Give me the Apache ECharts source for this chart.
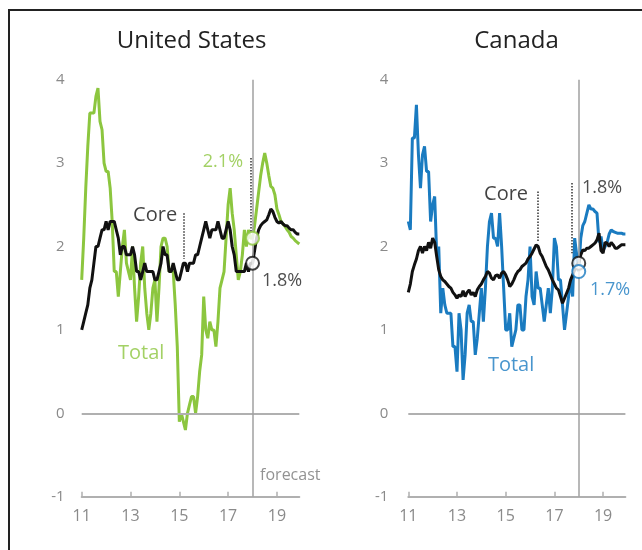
<!DOCTYPE html>
<html>
<head>
<meta charset="utf-8">
<script src="https://cdn.jsdelivr.net/npm/echarts@6/dist/echarts.min.js"></script>
<style>
  html, body { margin: 0; padding: 0; background: #fff; }
  #chart { width: 642px; height: 550px; }
</style>
</head>
<body>
<div id="chart"></div>
<script>
// Year-over-year inflation, % — monthly, Jan 2011 to Dec 2019 (2018 onward is forecast)
const firstYear = 11;            // x axis is in two-digit years
const forecastYear = 18;
const tickYears = [11, 13, 15, 17, 19];

const usTotal = [
  1.6, 2.1, 2.7, 3.2, 3.6, 3.6, 3.6, 3.8, 3.9, 3.5, 3.4, 3.0,
  2.9, 2.9, 2.7, 2.3, 1.7, 1.7, 1.4, 1.7, 2.0, 2.2, 1.8, 1.7,
  1.6, 2.0, 1.5, 1.1, 1.4, 1.8, 2.0, 1.5, 1.2, 1.0, 1.2, 1.5,
  1.6, 1.1, 1.5, 2.0, 2.1, 2.1, 2.0, 1.7, 1.7, 1.7, 1.3, 0.8,
  -0.1, 0.0, -0.1, -0.2, 0.0, 0.1, 0.2, 0.2, 0.0, 0.2, 0.5, 0.7,
  1.4, 1.0, 0.9, 1.1, 1.0, 1.0, 0.8, 1.1, 1.5, 1.6, 1.7, 2.1,
  2.5, 2.7, 2.4, 2.2, 1.9, 1.6, 1.7, 1.9, 2.2, 2.0, 2.2, 2.1,
  2.1, 2.25, 2.45, 2.65, 2.85, 3.0, 3.12, 3.0, 2.85, 2.72, 2.7, 2.62,
  2.45, 2.38, 2.3, 2.27, 2.24, 2.2, 2.17, 2.12, 2.1, 2.07, 2.05, 2.03
];
const usCore = [
  1.0, 1.1, 1.2, 1.3, 1.5, 1.6, 1.8, 2.0, 2.0, 2.1, 2.2, 2.2,
  2.3, 2.2, 2.3, 2.3, 2.3, 2.2, 2.1, 1.9, 2.0, 2.0, 1.9, 1.9,
  1.9, 2.0, 1.9, 1.7, 1.7, 1.6, 1.7, 1.8, 1.7, 1.7, 1.7, 1.7,
  1.6, 1.6, 1.7, 1.8, 2.0, 1.9, 1.9, 1.7, 1.7, 1.8, 1.7, 1.6,
  1.6, 1.7, 1.8, 1.8, 1.7, 1.8, 1.8, 1.8, 1.9, 1.9, 2.0, 2.1,
  2.2, 2.3, 2.2, 2.1, 2.2, 2.2, 2.2, 2.3, 2.2, 2.1, 2.1, 2.2,
  2.3, 2.2, 2.0, 1.9, 1.7, 1.7, 1.7, 1.7, 1.7, 1.8, 1.7, 1.8,
  1.8, 1.95, 2.1, 2.2, 2.25, 2.28, 2.3, 2.32, 2.38, 2.45, 2.42, 2.35,
  2.3, 2.28, 2.3, 2.27, 2.25, 2.25, 2.22, 2.2, 2.2, 2.17, 2.15, 2.15
];
const caTotal = [
  2.3, 2.2, 3.3, 3.3, 3.7, 3.1, 2.7, 3.1, 3.2, 2.9, 2.9, 2.3,
  2.5, 2.6, 1.9, 2.0, 1.2, 1.5, 1.3, 1.2, 1.2, 1.2, 0.8, 0.8,
  0.5, 1.2, 1.0, 0.4, 0.7, 1.2, 1.3, 1.1, 1.1, 0.7, 0.9, 1.2,
  1.5, 1.1, 1.5, 2.0, 2.3, 2.4, 2.1, 2.1, 2.0, 2.4, 2.0, 1.5,
  1.0, 1.0, 1.2, 0.8, 0.9, 1.0, 1.3, 1.3, 1.0, 1.0, 1.4, 1.6,
  2.0, 1.4, 1.3, 1.7, 1.5, 1.5, 1.3, 1.1, 1.3, 1.5, 1.2, 1.5,
  2.1, 2.0, 1.6, 1.6, 1.3, 1.0, 1.2, 1.4, 1.6, 1.4, 2.1, 1.9,
  1.7, 2.1, 2.25, 2.3, 2.4, 2.5, 2.45, 2.45, 2.42, 2.4, 2.05, 2.12,
  1.95, 2.0, 2.05, 2.15, 2.2, 2.18, 2.17, 2.16, 2.16, 2.16, 2.15, 2.15
];
const caCore = [
  1.45, 1.55, 1.7, 1.78, 1.85, 1.95, 2.0, 1.92, 2.0, 1.95, 2.05, 1.98,
  2.1, 2.05, 1.88, 1.72, 1.64, 1.6, 1.58, 1.55, 1.52, 1.5, 1.45, 1.42,
  1.38, 1.42, 1.4, 1.47, 1.4, 1.45, 1.48, 1.42, 1.45, 1.4, 1.48, 1.52,
  1.55, 1.6, 1.64, 1.7, 1.68, 1.62, 1.6, 1.65, 1.66, 1.62, 1.68, 1.7,
  1.66, 1.6, 1.52, 1.55, 1.6, 1.66, 1.7, 1.72, 1.76, 1.78, 1.8, 1.85,
  1.88, 1.92, 1.97, 2.02, 2.0, 1.92, 1.88, 1.82, 1.76, 1.72, 1.66, 1.6,
  1.55, 1.5, 1.48, 1.4, 1.32, 1.38, 1.44, 1.5, 1.6, 1.66, 1.72, 1.78,
  1.8, 1.9, 1.96, 1.95, 1.98, 1.98, 2.0, 2.02, 2.04, 2.08, 2.16, 1.95,
  1.92, 2.05, 2.04, 2.0, 2.05, 2.02, 1.98, 1.98, 2.0, 2.02, 2.02, 2.02
];

// Latest readings, marked at the start of the forecast
const usLatest = { total: 2.1, core: 1.8 };
const caLatest = { total: 1.7, core: 1.8 };

const GREEN = '#8cc63f';
const BLUE = '#1a7bc0';
const BLACK = '#111111';
const GREY_TEXT = '#8a8a8a';
const GREY_LINE = '#b0b0b0';
const FONT = '"Open Sans", "Noto Sans", sans-serif';

const toSeries = arr => arr.map((v, i) => [firstYear + i / 12, v]);
const lastX = firstYear + (usTotal.length - 1) / 12;

function xAxisFor(gridIndex) {
  return {
    type: 'value', gridIndex, min: firstYear, max: lastX,
    axisLine: { show: true, onZero: false, lineStyle: { color: GREY_LINE, width: 2 } },
    axisTick: { show: true, inside: true, length: 5, customValues: tickYears,
                lineStyle: { color: GREY_LINE, width: 1.5 } },
    axisLabel: { customValues: tickYears, formatter: v => String(v), margin: 12,
                 color: GREY_TEXT, fontSize: 16, fontFamily: FONT },
    splitLine: { show: false }
  };
}
function yAxisFor(gridIndex, margin) {
  return {
    type: 'value', gridIndex, min: -1, max: 4, interval: 1,
    axisLine: { show: false }, axisTick: { show: false }, splitLine: { show: false },
    axisLabel: { color: GREY_TEXT, fontSize: 15, fontFamily: FONT, margin }
  };
}

// zero line and forecast divider
function guides(idx) {
  return {
    type: 'line', xAxisIndex: idx, yAxisIndex: idx, data: [], z: 1, silent: true,
    markLine: {
      symbol: 'none', silent: true, animation: false, label: { show: false },
      data: [
        { yAxis: 0, lineStyle: { color: GREY_LINE, width: 2, type: 'solid' } },
        { xAxis: forecastYear, lineStyle: { color: '#a0a0a0', width: 1.5, type: 'solid' } }
      ]
    }
  };
}
function line(idx, arr, color, z) {
  return {
    type: 'line', xAxisIndex: idx, yAxisIndex: idx, data: toSeries(arr), z,
    symbol: 'none', smooth: false, lineStyle: { color, width: 3 }, silent: true
  };
}
function dotted(idx, segs) {
  return {
    type: 'line', xAxisIndex: idx, yAxisIndex: idx, data: [], z: 4, silent: true,
    markLine: {
      symbol: 'none', silent: true, animation: false, label: { show: false },
      lineStyle: { color: '#333', width: 1.5, type: [1.5, 1.5] },
      data: segs.map(s => [{ coord: [s[0], s[1]] }, { coord: [s[0], s[2]] }])
    }
  };
}
function dots(idx, pts) {
  return {
    type: 'scatter', xAxisIndex: idx, yAxisIndex: idx, z: 6, silent: true,
    symbol: 'circle', symbolSize: 13,
    data: pts.map(p => ({ value: [forecastYear, p.v],
      itemStyle: { color: '#fff', borderColor: p.c, borderWidth: 2 } }))
  };
}
function notes(idx, items) {
  return {
    type: 'scatter', xAxisIndex: idx, yAxisIndex: idx, z: 7, silent: true,
    symbolSize: 0,
    data: items.map(t => ({
      value: [t.x, t.y],
      label: { show: true, formatter: t.text, position: t.pos, distance: 0,
               color: t.color, fontSize: t.size, fontFamily: FONT }
    }))
  };
}

const fmt = v => v.toFixed(1) + '%';

const option = {
  animation: false,
  backgroundColor: '#ffffff',
  grid: [
    { left: 81.7, top: 79.7, width: 217.6, height: 417 },
    { left: 408.3, top: 79.7, width: 217.1, height: 417 }
  ],
  xAxis: [xAxisFor(0), xAxisFor(1)],
  yAxis: [yAxisFor(0, 17), yAxisFor(1, 20)],
  graphic: [
    { type: 'rect', shape: { x: 9, y: 10, width: 700, height: 600 },
      style: { fill: 'none', stroke: '#222', lineWidth: 2 }, silent: true },
    { type: 'text', x: 191.5, y: 41, silent: true,
      style: { text: 'United States', align: 'center', verticalAlign: 'middle',
               fill: '#222', font: '24px ' + FONT } },
    { type: 'text', x: 516.5, y: 41, silent: true,
      style: { text: 'Canada', align: 'center', verticalAlign: 'middle',
               fill: '#222', font: '24px ' + FONT } }
  ],
  series: [
    guides(0),
    line(0, usTotal, GREEN, 2),
    line(0, usCore, BLACK, 3),
    dotted(0, [[15.17, 2.4, 1.85], [17.92, 3.06, 2.18]]),
    dots(0, [{ v: usLatest.total, c: GREEN }, { v: usLatest.core, c: BLACK }]),
    notes(0, [
      { text: 'Core', x: 14.91, y: 2.375, pos: 'left', color: BLACK, size: 20 },
      { text: fmt(usLatest.total), x: 17.61, y: 3.01, pos: 'left', color: GREEN, size: 18 },
      { text: fmt(usLatest.core), x: 18.39, y: 1.59, pos: 'right', color: '#222', size: 18 },
      { text: 'Total', x: 12.49, y: 0.72, pos: 'right', color: GREEN, size: 20 },
      { text: 'forecast', x: 18.31, y: -0.75, pos: 'right', color: '#777', size: 16 }
    ]),

    guides(1),
    line(1, caTotal, BLUE, 2),
    line(1, caCore, BLACK, 3),
    dotted(1, [[16.33, 2.66, 2.05], [17.73, 2.76, 1.92]]),
    dots(1, [{ v: caLatest.core, c: BLACK }, { v: caLatest.total, c: BLUE }]),
    notes(1, [
      { text: 'Core', x: 15.92, y: 2.62, pos: 'left', color: BLACK, size: 20 },
      { text: fmt(caLatest.core), x: 18.13, y: 2.70, pos: 'right', color: '#222', size: 18 },
      { text: fmt(caLatest.total), x: 18.46, y: 1.48, pos: 'right', color: BLUE, size: 18 },
      { text: 'Total', x: 14.27, y: 0.58, pos: 'right', color: BLUE, size: 20 }
    ])
  ]
};

const chart = echarts.init(document.getElementById('chart'), null, { renderer: 'canvas' });
chart.setOption(option);
</script>
</body>
</html>
